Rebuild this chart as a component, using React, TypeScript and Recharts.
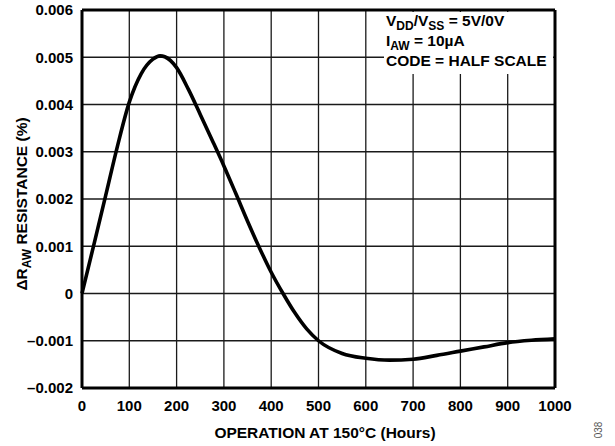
import { LineChart, Line, XAxis, YAxis, CartesianGrid, ReferenceLine } from 'recharts';

const hours = [0, 25, 50, 75, 100, 125, 150, 165, 175, 200, 225, 250, 275, 300, 325, 350, 375, 400, 425, 450, 475, 500, 550, 600, 650, 700, 750, 800, 850, 900, 950, 1000];
const resistance = [0, 0.00103, 0.00207, 0.00312, 0.00405, 0.00465, 0.00496, 0.00503, 0.00501, 0.00478, 0.00432, 0.00379, 0.00325, 0.0027, 0.00212, 0.00153, 0.00097, 0.00045, 0.0, -0.00041, -0.00075, -0.001, -0.00127, -0.00137, -0.00141, -0.00139, -0.00131, -0.00122, -0.00113, -0.00104, -0.00099, -0.00096];

const xTicks = [0, 100, 200, 300, 400, 500, 600, 700, 800, 900, 1000];
const yTicks = [-0.002, -0.001, 0, 0.001, 0.002, 0.003, 0.004, 0.005, 0.006];

const data = hours.map((h, i) => ({ h, r: resistance[i] }));

const FONT = '"Liberation Sans", Arial, sans-serif';
const tickStyle = { fontFamily: FONT, fontWeight: 700, fontSize: 15, fill: '#000' };
const subStyle = { fontSize: 12, verticalAlign: 'baseline', position: 'relative' as const, top: 4 };

const fmtY = (v: number) => {
  if (Math.abs(v) < 1e-9) return '0';
  const s = Math.abs(v).toFixed(3);
  return v < 0 ? '\u2013' + s : s;
};

export default function App() {
  return (
    <div style={{ position: 'absolute', left: 0, top: 0, width: 615, height: 446 }}>
      <LineChart
        width={615}
        height={446}
        data={data}
        margin={{ top: 10, right: 60, left: 0, bottom: 0 }}
        style={{ background: '#fff' }}
      >
        <CartesianGrid stroke="#1a1a1a" strokeWidth={1.3} />
        <XAxis
          dataKey="h"
          type="number"
          domain={[0, 1000]}
          ticks={xTicks}
          height={58}
          tick={tickStyle}
          tickLine={false}
          tickSize={0}
          tickMargin={12}
          axisLine={{ stroke: '#000', strokeWidth: 3 }}
        />
        <YAxis
          type="number"
          domain={[-0.002, 0.006]}
          ticks={yTicks}
          width={82}
          tick={tickStyle}
          tickFormatter={fmtY}
          tickLine={false}
          tickSize={0}
          tickMargin={9}
          axisLine={{ stroke: '#000', strokeWidth: 3 }}
        />
        <ReferenceLine y={0.006} stroke="#000" strokeWidth={3} />
        <ReferenceLine x={1000} stroke="#000" strokeWidth={3} />
        <Line
          dataKey="r"
          type="monotone"
          stroke="#000"
          strokeWidth={3.6}
          dot={false}
          isAnimationActive={false}
        />
        <text
          x={27}
          y={204}
          transform="rotate(-90 27 204)"
          textAnchor="middle"
          fontFamily={FONT}
          fontWeight={700}
          fontSize={15.5}
          fill="#000"
        >
          ΔR<tspan dy={4} fontSize={12}>AW</tspan>
          <tspan dy={-4}> RESISTANCE (%)</tspan>
        </text>
        <text x={325} y={438} textAnchor="middle" fontFamily={FONT} fontWeight={700} fontSize={15.5} fill="#000">
          OPERATION AT 150°C (Hours)
        </text>
        <text
          x={602}
          y={430}
          transform="rotate(-90 602 430)"
          textAnchor="middle"
          fontFamily={FONT}
          fontSize={10}
          fill="#555"
        >
          038
        </text>
      </LineChart>
      <div
        style={{
          position: 'absolute',
          left: 384,
          top: 12,
          width: 169,
          height: 62,
          background: '#fff',
          fontFamily: FONT,
          fontWeight: 700,
          fontSize: 15.5,
          lineHeight: '17.5px',
          color: '#000',
          paddingLeft: 2,
          boxSizing: 'border-box',
          whiteSpace: 'nowrap',
        }}
      >
        <div>V<span style={subStyle}>DD</span>/V<span style={subStyle}>SS</span> = 5V/0V</div>
        <div>I<span style={subStyle}>AW</span> = 10µA</div>
        <div style={{ marginTop: 1 }}>CODE = HALF SCALE</div>
      </div>
    </div>
  );
}
